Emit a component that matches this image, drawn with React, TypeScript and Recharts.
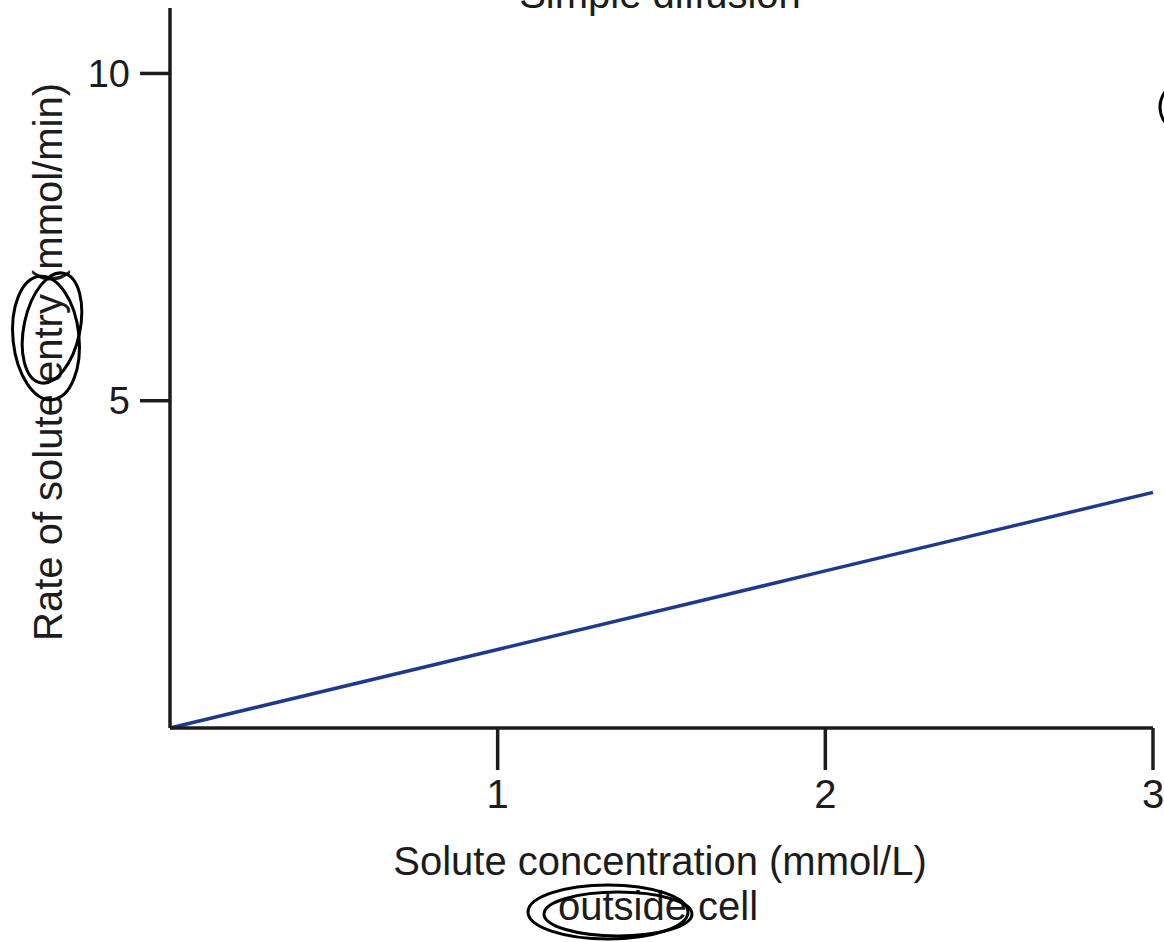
import React from 'react';
import { LineChart, Line, XAxis, YAxis, Customized } from 'recharts';

// solute concentration outside the cell (mmol/L)
const concentration = [0, 1, 2, 3];
// rate of solute entry (mmol/min)
const rate = [0, 1.2, 2.4, 3.6];

const xTicks = [1, 2, 3];
const yTicks = [5, 10];

const data = concentration.map((c, i) => ({ c, rate: rate[i] }));

const FONT = '"Liberation Sans", Arial, Helvetica, sans-serif';
const INK = '#1c1c1c';

const Annotations = () => (
  <g fontFamily={FONT} fill={INK}>
    <text x={660} y={8} textAnchor="middle" fontSize={40}>
      Simple diffusion
    </text>
    <text x={660} y={875} textAnchor="middle" fontSize={40}>
      Solute concentration (mmol/L)
    </text>
    <text x={658} y={920} textAnchor="middle" fontSize={40}>
      outside cell
    </text>
    <text
      x={48}
      y={362}
      textAnchor="middle"
      dominantBaseline="central"
      fontSize={40}
      transform="rotate(-90 48 362)"
    >
      Rate of solute entry (mmol/min)
    </text>
    {/* pen marks on the scan */}
    <g fill="none" stroke="#000" strokeWidth={3}>
      <ellipse cx={46} cy={338} rx={33} ry={62} transform="rotate(-6 46 338)" />
      <ellipse cx={52} cy={328} rx={28} ry={56} transform="rotate(12 52 328)" />
      <ellipse cx={608} cy={912} rx={80} ry={27} />
      <ellipse cx={618} cy={914} rx={74} ry={22} />
      <ellipse cx={1192} cy={107} rx={32} ry={28} />
    </g>
  </g>
);

export default function App() {
  return (
    <div style={{ position: 'absolute', left: 0, top: 0, background: '#fff' }}>
      <LineChart
        width={1164}
        height={942}
        data={data}
        margin={{ top: 8, right: 11, left: 0, bottom: 0 }}
      >
        <XAxis
          dataKey="c"
          type="number"
          domain={[0, 3]}
          ticks={xTicks}
          height={214}
          tickSize={42}
          tickMargin={10}
          axisLine={{ stroke: INK, strokeWidth: 3.5 }}
          tickLine={{ stroke: INK, strokeWidth: 3.5 }}
          tick={{ fill: INK, fontSize: 40, fontFamily: FONT }}
        />
        <YAxis
          type="number"
          domain={[0, 11]}
          ticks={yTicks}
          width={170}
          tickSize={30}
          tickMargin={10}
          axisLine={{ stroke: INK, strokeWidth: 3.5 }}
          tickLine={{ stroke: INK, strokeWidth: 3.5 }}
          tick={{ fill: INK, fontSize: 38, fontFamily: FONT }}
        />
        <Line
          type="linear"
          dataKey="rate"
          stroke="#1f3a8c"
          strokeWidth={3.5}
          dot={false}
          isAnimationActive={false}
        />
        <Customized component={Annotations} />
      </LineChart>
    </div>
  );
}
